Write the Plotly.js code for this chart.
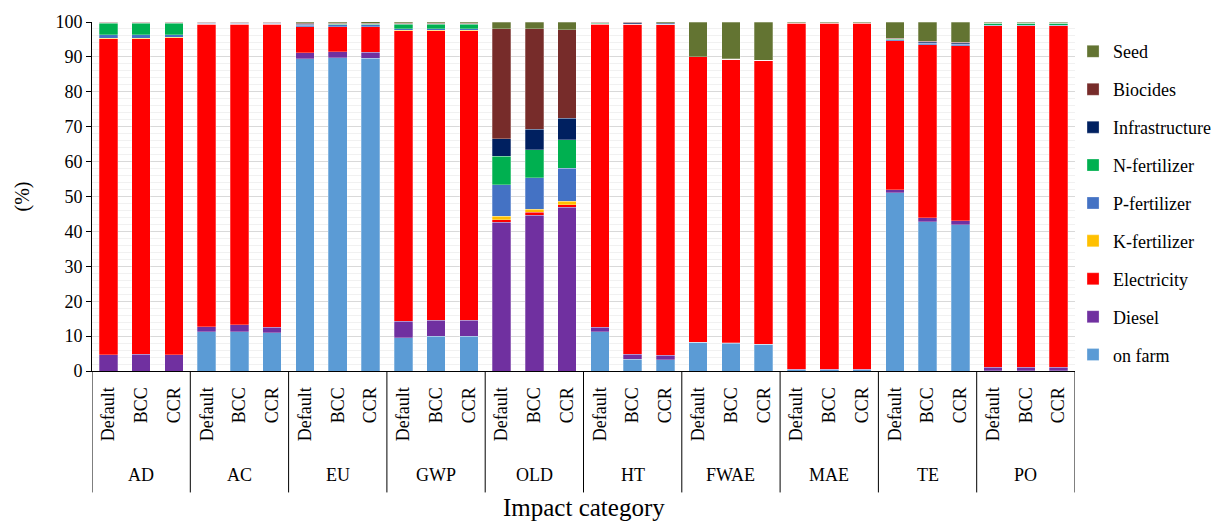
<!DOCTYPE html>
<html>
<head>
<meta charset="utf-8">
<script src="https://cdn.plot.ly/plotly-3.0.1.min.js"></script>
<style>html,body{margin:0;padding:0;background:#fff;font-family:"Liberation Serif",serif;}#chart{width:1213px;height:523px;}</style>
</head>
<body>
<div id="chart"></div>
<script>
const groups = ["AD","AC","EU","GWP","OLD","HT","FWAE","MAE","TE","PO"];
const scenarios = ["Default","BCC","CCR"];

// values (%) per bar, ordered group by group: Default, BCC, CCR
const onFarm =        [0,0,0, 11.2,11.3,10.9, 89.5,89.7,89.6, 9.6,9.9,9.9, 0,0,0, 11.2,3.4,3.2, 8.2,8.0,7.6, 0.3,0.3,0.3, 51.1,42.8,41.9, 0.1,0.1,0.1];
const diesel =        [4.6,4.8,4.7, 1.5,1.9,1.7, 1.7,1.8,1.7, 4.6,4.7,4.6, 42.6,44.7,46.9, 1.4,1.4,1.3, 0.1,0.1,0.1, 0.2,0.2,0.2, 0.9,1.1,1.1, 1.0,1.0,1.0];
const electricity =   [90.6,90.4,90.8, 86.7,86.2,86.8, 7.4,7.2,7.3, 83.3,82.9,83.0, 0.8,0.8,0.8, 86.7,94.5,94.7, 81.7,81.2,81.4, 99.2,99.2,99.2, 42.6,49.6,50.2, 97.8,97.8,97.8];
const kFertilizer =   [0.1,0.1,0.1, 0,0,0, 0,0,0, 0.1,0.1,0.1, 0.9,0.8,0.9, 0,0,0, 0,0,0, 0,0,0, 0,0,0, 0,0,0];
const pFertilizer =   [1.1,1.1,0.8, 0.2,0.2,0.2, 0.5,0.5,0.6, 0.4,0.4,0.4, 9.1,9.1,9.5, 0.2,0.1,0.1, 0,0,0, 0.1,0.1,0.1, 0.3,0.4,0.4, 0.1,0.1,0.1];
const nFertilizer =   [3.3,3.3,3.3, 0.1,0.1,0.1, 0.1,0.1,0.1, 1.3,1.3,1.3, 8.1,8.0,8.2, 0.1,0.1,0.1, 0,0,0, 0,0,0, 0.1,0.1,0.1, 0.6,0.6,0.6];
const infrastructure =[0.1,0.1,0.1, 0.1,0.1,0.1, 0.2,0.2,0.2, 0.2,0.2,0.2, 5.1,5.8,6.1, 0.2,0.3,0.3, 0,0,0, 0,0,0, 0.2,0.4,0.4, 0.1,0.1,0.1];
const biocides =      [0.1,0.1,0.1, 0.1,0.1,0.1, 0.2,0.1,0.2, 0.2,0.2,0.2, 31.5,28.9,25.4, 0.1,0.1,0.1, 0,0.1,0, 0,0,0, 0.1,0.1,0.1, 0.1,0.1,0.1];
const seed =          [0.1,0.1,0.1, 0.1,0.1,0.1, 0.4,0.4,0.4, 0.3,0.3,0.3, 1.9,1.9,2.2, 0.1,0.2,0.3, 10.0,10.6,10.9, 0.2,0.2,0.2, 4.7,5.5,5.8, 0.2,0.2,0.2];

const seriesNames = ["on farm","Diesel","Electricity","K-fertilizer","P-fertilizer","N-fertilizer","Infrastructure","Biocides","Seed"];
const seriesValues = [onFarm,diesel,electricity,kFertilizer,pFertilizer,nFertilizer,infrastructure,biocides,seed];
const seriesColors = ["#5B9BD5","#7030A0","#FF0000","#FFC000","#4472C4","#00B050","#002060","#772C2A","#637432"];

const xIdx = [];
const xText = [];
groups.forEach((g,gi)=>scenarios.forEach((s,si)=>{xIdx.push(gi*scenarios.length+si); xText.push(s);}));

const FONT = "Liberation Serif";

const traces = seriesNames.map((n,i)=>({
  type:"bar", name:n, x:xIdx, y:seriesValues[i],
  marker:{color:seriesColors[i], line:{color:"rgba(255,255,255,0.45)", width:0.6}},
  legendgroup:"g"+i, legendrank:seriesNames.length-i, hoverinfo:"name+y"
}));

const shapes = [];
for (let k=0;k<=groups.length;k++){
  shapes.push({type:"line", xref:"x", yref:"paper", x0:k*3-0.5, x1:k*3-0.5, y0:0, y1:-0.348, line:{color:"#000", width:1}});
}
const annotations = groups.map((g,gi)=>({
  xref:"x", yref:"paper", x:gi*3+1, y:-0.298, text:g, showarrow:false,
  font:{family:FONT, size:18, color:"#000"}, xanchor:"center", yanchor:"middle"
}));
annotations.push({xref:"paper", yref:"paper", x:0.5, y:-0.39, text:"Impact category", showarrow:false,
  font:{family:FONT, size:25, color:"#000"}, xanchor:"center", yanchor:"middle"});

const layout = {
  width:1213, height:523,
  margin:{l:92, r:138, t:22, b:152, autoexpand:false},
  barmode:"stack", bargap:0.435,
  paper_bgcolor:"#fff", plot_bgcolor:"#fff",
  font:{family:FONT, size:18, color:"#000"},
  xaxis:{range:[-0.5,29.5], tickvals:xIdx, ticktext:xText, tickangle:-90, automargin:false,
    ticks:"outside", ticklen:8, tickcolor:"rgba(0,0,0,0)", showline:true, linecolor:"#000", linewidth:1,
    showgrid:false, zeroline:false, tickfont:{family:FONT, size:18, color:"#000"}, fixedrange:true},
  yaxis:{range:[0,100], dtick:10, ticks:"outside", ticklen:5, tickcolor:"#000", showline:true, linecolor:"#000", linewidth:1,
    showgrid:true, gridcolor:"#d9d9d9", zeroline:false, automargin:false,
    minor:{dtick:2, showgrid:true, gridcolor:"#f1f1f1"},
    tickfont:{family:FONT, size:18, color:"#000"},
    title:{text:"(%)", standoff:20, font:{family:FONT, size:20, color:"#000"}}},
  legend:{x:0.998, xref:"paper", xanchor:"left", y:0.968, yanchor:"top", traceorder:"grouped", tracegroupgap:11.5,
    font:{family:FONT, size:18, color:"#000"}, bgcolor:"rgba(0,0,0,0)"},
  shapes:shapes, annotations:annotations, showlegend:true
};

Plotly.newPlot("chart", traces, layout, {displayModeBar:false, staticPlot:true});
</script>
</body>
</html>
